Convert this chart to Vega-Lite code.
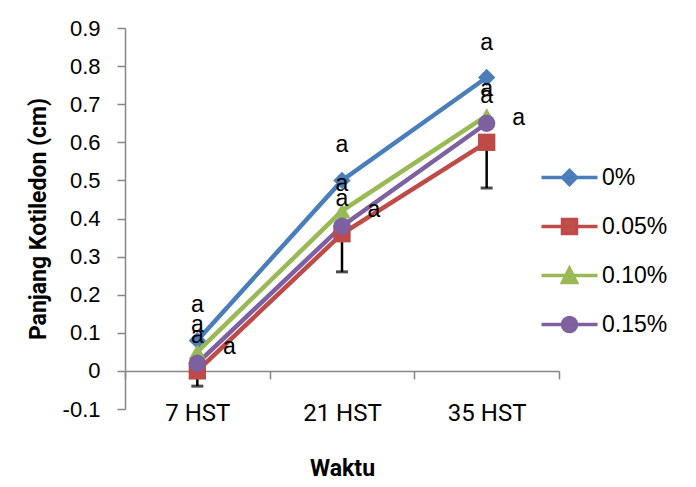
{
  "$schema": "https://vega.github.io/schema/vega-lite/v6.json",
  "width": 434,
  "height": 381,
  "autosize": {"type": "none"},
  "padding": {"left": 125, "top": 28, "right": 137, "bottom": 78},
  "background": "white",
  "config": {
    "view": {"stroke": null},
    "font": "Liberation Sans, Arial, sans-serif"
  },
  "data": {
    "values": [
      {"t": "7 HST", "s": "0%", "v": 0.08, "lab": "a"},
      {"t": "21 HST", "s": "0%", "v": 0.50, "lab": "a"},
      {"t": "35 HST", "s": "0%", "v": 0.77, "lab": "a"},
      {"t": "7 HST", "s": "0.05%", "v": 0.0, "lo": -0.04, "lab": "a"},
      {"t": "21 HST", "s": "0.05%", "v": 0.36, "lo": 0.26, "lab": "a"},
      {"t": "35 HST", "s": "0.05%", "v": 0.60, "lo": 0.48, "lab": "a"},
      {"t": "7 HST", "s": "0.10%", "v": 0.05, "lab": "a"},
      {"t": "21 HST", "s": "0.10%", "v": 0.42, "lab": "a"},
      {"t": "35 HST", "s": "0.10%", "v": 0.67, "lab": "a"},
      {"t": "7 HST", "s": "0.15%", "v": 0.02, "lab": "a"},
      {"t": "21 HST", "s": "0.15%", "v": 0.38, "lab": "a"},
      {"t": "35 HST", "s": "0.15%", "v": 0.65, "lab": "a"}
    ]
  },
  "resolve": {"scale": {"shape": "independent", "fill": "independent", "stroke": "independent"}},
  "encoding": {
    "x": {
      "field": "t",
      "type": "ordinal",
      "sort": ["7 HST", "21 HST", "35 HST"],
      "bandPosition": 0.5,
      "scale": {"type": "band", "paddingInner": 0, "paddingOuter": 0},
      "axis": {
        "title": "Waktu",
        "offset": -38.1,
        "grid": false,
        "domainColor": "#868686",
        "domainWidth": 1.5,
        "tickColor": "#868686",
        "tickWidth": 1.5,
        "tickSize": 8,
        "tickBand": "extent",
        "labelAngle": 0,
        "labelFont": "Roboto, sans-serif",
        "labelFontSize": 24,
        "labelColor": "black",
        "labelPadding": 23,
        "titleFont": "Roboto, sans-serif",
        "titleFontSize": 23,
        "titleFontWeight": "bold",
        "titleColor": "black",
        "titleY": 98,
        "titleBaseline": "middle"
      }
    },
    "y": {
      "field": "v",
      "type": "quantitative",
      "scale": {"domain": [-0.1, 0.9], "nice": false, "zero": false},
      "axis": {
        "title": "Panjang Kotiledon (cm)",
        "values": [-0.1, 0, 0.1, 0.2, 0.3, 0.4, 0.5, 0.6, 0.7, 0.8, 0.9],
        "labelExpr": "datum.value == 0 ? '0' : replace(format(datum.value, '.1f'), '−', '-')",
        "grid": false,
        "domainColor": "#868686",
        "domainWidth": 1.5,
        "tickColor": "#868686",
        "tickWidth": 1.5,
        "tickSize": 8,
        "labelFontSize": 22,
        "labelColor": "black",
        "labelPadding": 17,
        "titleFont": "Roboto, sans-serif",
        "titleFontSize": 23,
        "titleFontWeight": "bold",
        "titleColor": "black",
        "titleX": -87,
        "titleBaseline": "middle"
      }
    }
  },
  "layer": [
    {
      "transform": [{"filter": "isValid(datum.lo)"}],
      "mark": {"type": "rule", "color": "black", "strokeWidth": 2.5},
      "encoding": {"y": {"field": "lo", "type": "quantitative"}, "y2": {"field": "v"}}
    },
    {
      "transform": [{"filter": "isValid(datum.lo)"}],
      "mark": {"type": "tick", "color": "black", "size": 12, "thickness": 3, "orient": "horizontal"},
      "encoding": {"y": {"field": "lo", "type": "quantitative"}}
    },
    {
      "mark": {"type": "line", "strokeWidth": 4.5},
      "encoding": {
        "color": {
          "field": "s",
          "type": "nominal",
          "scale": {"domain": ["0%", "0.05%", "0.10%", "0.15%"], "range": ["#4A7EBB", "#BE4B48", "#98B954", "#7D60A0"]},
          "legend": null
        }
      }
    },
    {
      "mark": {"type": "point", "filled": true, "opacity": 1, "size": 300},
      "encoding": {
        "color": {"field": "s", "type": "nominal", "legend": null},
        "shape": {
          "field": "s",
          "type": "nominal",
          "scale": {"domain": ["0%", "0.05%", "0.10%", "0.15%"], "range": ["diamond", "square", "triangle-up", "circle"]},
          "legend": null
        }
      }
    },
    {
      "mark": {"type": "point", "filled": true, "opacity": 0, "size": 196, "strokeWidth": 3.5},
      "encoding": {
        "fill": {
          "field": "s",
          "type": "nominal",
          "scale": {"domain": ["0%", "0.05%", "0.10%", "0.15%"], "range": ["#4F81BD", "#C0504D", "#9BBB59", "#8064A2"]},
          "legend": {"title": null, "orient": "none", "legendX": 433, "legendY": 138, "labelFontSize": 23, "labelColor": "black", "labelOffset": 21, "rowPadding": 20, "symbolSize": 196, "symbolStrokeWidth": 3.5, "symbolOpacity": 1}
        },
        "stroke": {
          "field": "s",
          "type": "nominal",
          "scale": {"domain": ["0%", "0.05%", "0.10%", "0.15%"], "range": ["#4A7EBB", "#BE4B48", "#98B954", "#7D60A0"]},
          "legend": {"title": null, "orient": "none", "legendX": 433, "legendY": 138, "labelFontSize": 23, "labelColor": "black", "labelOffset": 21, "rowPadding": 20, "symbolSize": 196, "symbolStrokeWidth": 3.5, "symbolOpacity": 1}
        },
        "shape": {
          "field": "s",
          "type": "nominal",
          "scale": {
            "domain": ["0%", "0.05%", "0.10%", "0.15%"],
            "range": [
              "M-4,0H4M0,-1L1,0L0,1L-1,0Z",
              "M-4,0H4M-1,-1H1V1H-1Z",
              "M-4,0H4M0,-1L1,1H-1Z",
              "M-4,0H4M1,0A1,1 0 1,1 -1,0A1,1 0 1,1 1,0Z"
            ]
          },
          "legend": {"title": null, "orient": "none", "legendX": 433, "legendY": 138, "labelFontSize": 23, "labelColor": "black", "labelOffset": 21, "rowPadding": 20, "symbolSize": 196, "symbolStrokeWidth": 3.5, "symbolOpacity": 1}
        }
      }
    },
    {
      "transform": [{"filter": "datum.s == '0%'"}],
      "mark": {"type": "text", "fontSize": 23, "dy": -35, "baseline": "middle", "color": "black"},
      "encoding": {"text": {"field": "lab"}}
    },
    {
      "transform": [{"filter": "datum.s == '0.10%' || datum.s == '0.15%'"}],
      "mark": {"type": "text", "fontSize": 23, "dy": -27, "baseline": "middle", "color": "black"},
      "encoding": {"text": {"field": "lab"}}
    },
    {
      "transform": [{"filter": "datum.s == '0.05%'"}],
      "mark": {"type": "text", "fontSize": 23, "dx": 32, "dy": -24, "baseline": "middle", "color": "black"},
      "encoding": {"text": {"field": "lab"}}
    }
  ]
}
